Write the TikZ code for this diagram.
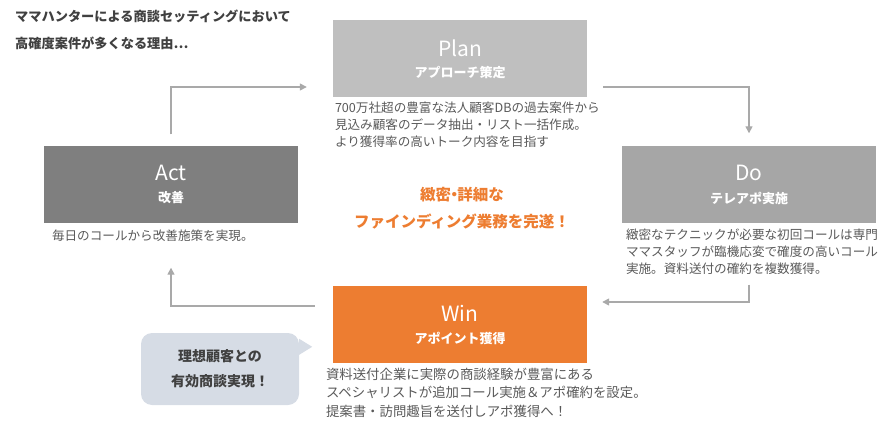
\documentclass[tikz,border=0pt]{standalone}
\usepackage{fontspec}
\setmainfont{Noto Sans CJK JP}
\usepackage{tikz}
\usetikzlibrary{positioning,arrows.meta}

\definecolor{planfill}{HTML}{BFBFBF}
\definecolor{actfill}{HTML}{7F7F7F}
\definecolor{dofill}{HTML}{A6A6A6}
\definecolor{winfill}{HTML}{ED7D31}
\definecolor{bubblefill}{HTML}{D6DCE5}
\definecolor{flowgray}{HTML}{A9A9A9}
\definecolor{desctext}{HTML}{595959}
\definecolor{headtext}{HTML}{404040}

\tikzset{
  box/.style={draw=none, minimum width=254pt, minimum height=77pt, inner sep=0pt},
  boxtitle/.style={text=white, font=\fontsize{21}{21}\selectfont, inner sep=0pt},
  boxsub/.style={text=white, font=\bfseries\fontsize{13}{13}\selectfont, inner sep=0pt},
  desc/.style={text=desctext, align=left, inner sep=0pt, font=\fontsize{12.6}{17}\selectfont},
  flow/.style={draw=flowgray, line width=1.4pt, -{Triangle[length=7pt,width=7pt]}},
}

\begin{document}
\begin{tikzpicture}[x=1pt, y=-1pt]
  \useasboundingbox (0,0) rectangle (896,425);
  % heading
  \node[anchor=north west, align=left, text=headtext, inner sep=0pt,
        font=\bfseries\fontsize{13.2}{27}\selectfont] (head) at (15,10)
    {ママハンターによる商談セッティングにおいて\\高確度案件が多くなる理由…};
  % four boxes with title and subtitle
  \foreach \n/\c/\px/\py/\t/\s in {plan/planfill/460/59/Plan/アプローチ策定,
      act/actfill/171/184/Act/改善, do/dofill/749/184/Do/テレアポ実施,
      win/winfill/460/324/Win/アポイント獲得} {
    \node[box, fill=\c] (\n) at (\px,\py) {};
    \node[boxtitle] (\n-t) at ([yshift=11pt]\n.center) {\t};
    \node[boxsub] (\n-s) at ([yshift=-14pt]\n.center) {\s};
  }
  % descriptions
  \node[desc, below right=4pt and 2pt of plan.south west] (plan-d)
    {700万社超の豊富な法人顧客DBの過去案件から\\見込み顧客のデータ抽出・リスト一括作成。\\より獲得率の高いトーク内容を目指す};
  \node[desc, below right=7pt and 8pt of act.south west] (act-d)
    {毎日のコールから改善施策を実現。};
  \node[desc, below right=6pt and 4pt of do.south west] (do-d)
    {緻密なテクニックが必要な初回コールは専門\\ママスタッフが臨機応変で確度の高いコール\\実施。資料送付の確約を複数獲得。};
  \node[desc, font=\fontsize{13.4}{18.5}\selectfont, below right=5pt and -7pt of win.south west] (win-d)
    {資料送付企業に実際の商談経験が豊富にある\\スペシャリストが追加コール実施＆アポ確約を設定。\\提案書・訪問趣旨を送付しアポ獲得へ！};
  % centre message
  \node[text=winfill, align=center, inner sep=0pt,
        font=\bfseries\fontsize{15.5}{27}\selectfont] (msg) at (462,208)
    {緻密\kern-0.3em・\kern-0.3em詳細な\\ファインディング業務を完遂！};
  % speech bubble
  \node[fill=bubblefill, rounded corners=11pt, minimum width=158pt, minimum height=72pt,
        align=center, text=headtext, font=\bfseries\fontsize{14}{25}\selectfont] (bubble) at (220,369)
    {理想顧客との\\有効商談実現！};
  \fill[bubblefill] ([yshift=-6pt]bubble.north east) -- ([xshift=13pt,yshift=-14pt]bubble.north east)
    -- ([yshift=-22pt]bubble.north east) -- cycle;
  % cycle arrows
  \draw[flow] ([yshift=11pt]act.north) |- ([xshift=-26pt,yshift=-28pt]plan.west);
  \draw[flow] ([xshift=16pt,yshift=-28pt]plan.east) -| ([yshift=12pt]do.north);
  \draw[flow] ([yshift=-62pt]do.south) |- ([xshift=15pt,yshift=22pt]win.east);
  \draw[flow] ([xshift=-18pt,yshift=18pt]win.west) -| ([yshift=-45pt]act.south);
\end{tikzpicture}
\end{document}
